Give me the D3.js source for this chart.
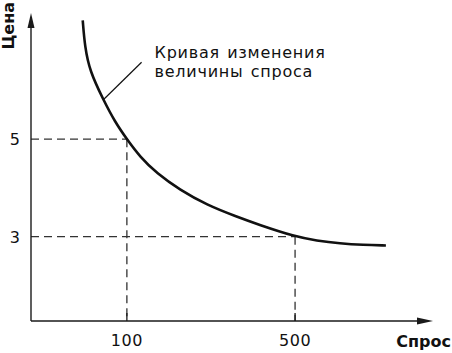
<!DOCTYPE html>
<html>
<head>
<meta charset="utf-8">
<script src="https://cdn.jsdelivr.net/npm/d3@7"></script>
<style>
  html, body { margin: 0; padding: 0; background: #fff; }
  svg { display: block; }
  text { font-family: "DejaVu Sans", "Liberation Sans", Arial, sans-serif; fill: #111; }
</style>
</head>
<body>
<script>
// ---- data ----
const qtyTicks = [100, 500];
const priceTicks = [3, 5];
const markedPoints = [ {q: 100, p: 5}, {q: 500, p: 3} ];
const curveQ = [-5, 0, 12, 44, 72, 100, 131, 171, 226, 290, 361, 412, 500, 551, 607, 662, 716];
const curveP = [7.44, 6.90, 6.39, 5.81, 5.35, 5.00, 4.64, 4.30, 3.96, 3.65, 3.41, 3.25, 3.00, 2.92, 2.86, 2.83, 2.82];
const leaderFrom = {q: 44, p: 5.81};
const leaderTo = {q: 135, p: 6.58};
const labelLines = ["Кривая изменения", "величины спроса"];
const xTitle = "Спрос";
const yTitle = "Цена";

// ---- layout ----
const W = 452, H = 353;
const svg = d3.select("body").append("svg").attr("width", W).attr("height", H);

const x = d3.scaleLinear().domain([-128, 828]).range([31, 433]);
const y = d3.scaleLinear().domain([1.27, 7.59]).range([321, 13]);

const x0 = x.range()[0], y0 = y.range()[0];
const stroke = "#1a1a1a";

// dashed guide lines
markedPoints.forEach(d => {
  svg.append("line")
    .attr("x1", x0).attr("x2", x(d.q))
    .attr("y1", y(d.p)).attr("y2", y(d.p))
    .attr("stroke", "#333").attr("stroke-width", 1.3)
    .attr("stroke-dasharray", "8,5");
  svg.append("line")
    .attr("x1", x(d.q)).attr("x2", x(d.q))
    .attr("y1", y(d.p)).attr("y2", y0)
    .attr("stroke", "#333").attr("stroke-width", 1.3)
    .attr("stroke-dasharray", "8,5");
});

// axes
svg.append("line").attr("x1", x0).attr("x2", x.range()[1] - 10)
  .attr("y1", y0).attr("y2", y0).attr("stroke", stroke).attr("stroke-width", 1.4);
svg.append("line").attr("x1", x0).attr("x2", x0)
  .attr("y1", y0).attr("y2", y.range()[1] + 10).attr("stroke", stroke).attr("stroke-width", 1.4);

// arrowheads
const xe = x.range()[1], ye = y.range()[1];
svg.append("path")
  .attr("d", `M${xe},${y0} L${xe - 16},${y0 - 3.5} L${xe - 16},${y0 + 3.5} Z`)
  .attr("fill", stroke);
svg.append("path")
  .attr("d", `M${x0},${ye} L${x0 - 3.5},${ye + 15} L${x0 + 3.5},${ye + 15} Z`)
  .attr("fill", stroke);

// x ticks
svg.selectAll(".xt").data(qtyTicks).enter().append("line")
  .attr("x1", d => x(d)).attr("x2", d => x(d))
  .attr("y1", y0 - 8).attr("y2", y0)
  .attr("stroke", stroke).attr("stroke-width", 1.3);
svg.selectAll(".xl").data(qtyTicks).enter().append("text")
  .attr("x", d => x(d)).attr("y", y0 + 25)
  .attr("text-anchor", "middle").attr("font-size", 16).attr("letter-spacing", 0.5)
  .text(d => d);

// y tick labels
svg.selectAll(".yl").data(priceTicks).enter().append("text")
  .attr("x", x0 - 11).attr("y", d => y(d) + 6)
  .attr("text-anchor", "end").attr("font-size", 16)
  .text(d => d);

// curve
const pts = curveQ.map((q, i) => [x(q), y(curveP[i])]);
svg.append("path")
  .attr("d", d3.line().curve(d3.curveBasis)(pts))
  .attr("fill", "none").attr("stroke", "#111").attr("stroke-width", 2.6);

// leader line
svg.append("line")
  .attr("x1", x(leaderFrom.q)).attr("y1", y(leaderFrom.p))
  .attr("x2", x(leaderTo.q)).attr("y2", y(leaderTo.p))
  .attr("stroke", "#111").attr("stroke-width", 1.2);

// label
const lbl = svg.append("text").attr("font-size", 16)
  .attr("letter-spacing", 0.75).attr("word-spacing", 1.5);
labelLines.forEach((t, i) => {
  lbl.append("tspan").attr("x", x(leaderTo.q) + 13).attr("y", y(leaderTo.p) - 4 + i * 18.5).text(t);
});

// axis titles
svg.append("text").attr("x", W - 1).attr("y", y0 + 26)
  .attr("text-anchor", "end").attr("font-size", 16).attr("font-weight", "bold")
  .text(xTitle);
svg.append("text")
  .attr("transform", `translate(14, 2) rotate(-90)`)
  .attr("text-anchor", "end").attr("font-size", 16).attr("font-weight", "bold")
  .text(yTitle);
</script>
</body>
</html>
